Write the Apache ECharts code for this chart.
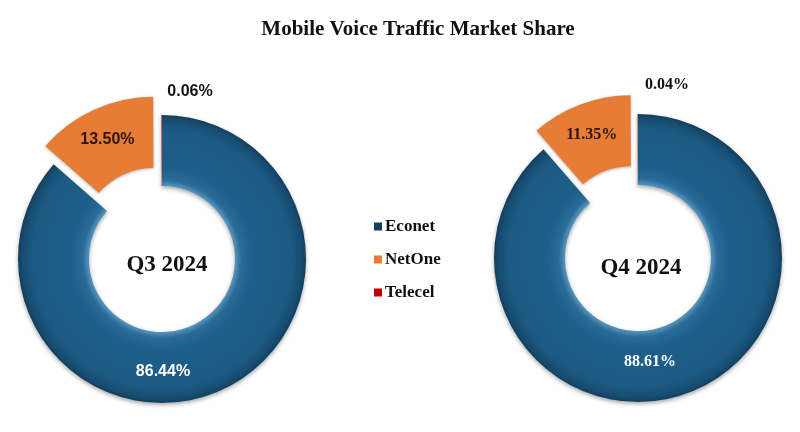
<!DOCTYPE html>
<html><head><meta charset="utf-8">
<script src="https://cdn.jsdelivr.net/npm/echarts@6/dist/echarts.min.js"></script>
<style>html,body{margin:0;padding:0;background:#fff}#c{width:800px;height:432px}</style>
</head><body><div id="c"></div>
<script>
const categories = ['Econet', 'NetOne', 'Telecel'];
const q3Values = [86.44, 13.50, 0.06];
const q4Values = [88.61, 11.35, 0.04];
const periods = ['Q3 2024', 'Q4 2024'];
const colors = ['#1E5D86', '#E67C35', '#C00000'];

const centers = [[162, 259], [638, 258]];
const rIn = 73, rOut = 144;
const fonts = ['"Liberation Sans", Arial, sans-serif', '"Liberation Serif", "Times New Roman", serif'];
const econetLabelOffsets = [[1, 113], [12, 104]];
const telecelLabelOffsets = [[28, -167], [29, -173]];

function econetFill(c) {
  return {
    type: 'radial', x: c[0], y: c[1], r: rOut, global: true,
    colorStops: [
      {offset: 0.50, color: '#5E9CC4'},
      {offset: 0.55, color: '#2A6C97'},
      {offset: 0.63, color: '#1F5F89'},
      {offset: 0.9, color: '#1C5A83'},
      {offset: 0.97, color: '#174C70'},
      {offset: 1, color: '#123E5C'}
    ]
  };
}

function makeSeries(values, idx) {
  const c = centers[idx];
  const font = fonts[idx];
  const eo = econetLabelOffsets[idx], to = telecelLabelOffsets[idx];
  return {
    type: 'pie',
    name: periods[idx],
    center: c,
    radius: [rIn, rOut],
    startAngle: 90,
    clockwise: true,
    selectedMode: 'multiple',
    selectedOffset: 20,
    avoidLabelOverlap: false,
    emphasis: {disabled: true},
    label: {
      show: true, position: 'inside',
      formatter: p => p.value.toFixed(2) + '%',
      fontFamily: font, fontWeight: 'bold', fontSize: 16
    },
    labelLine: {show: false},
    labelLayout: function (p) {
      if (p.dataIndex === 0) return {x: c[0] + eo[0], y: c[1] + eo[1], align: 'center', verticalAlign: 'middle'};
      if (p.dataIndex === 2) return {x: c[0] + to[0], y: c[1] + to[1], align: 'center', verticalAlign: 'middle'};
      return {};
    },
    data: values.map((v, i) => ({
      name: categories[i],
      value: v,
      selected: i === 1,
      itemStyle: i === 0 ? {color: econetFill(c), shadowBlur: 4, shadowColor: 'rgba(0,0,0,0.35)', shadowOffsetY: 2}
        : {color: colors[i], shadowBlur: 3, shadowColor: 'rgba(0,0,0,0.3)', shadowOffsetY: 1},
      label: i === 0 ? {color: '#FFFFFF'} : (i === 1 ? {color: '#2A1608'} : {color: '#111111', position: 'outside'})
    }))
  };
}

const chart = echarts.init(document.getElementById('c'), null, {renderer: 'canvas'});
chart.setOption({
  animation: false,
  backgroundColor: '#ffffff',
  color: colors,
  title: [
    {text: 'Mobile Voice Traffic Market Share', left: 413, top: 14, textAlign: 'center',
     textStyle: {fontFamily: '"Liberation Serif", "Times New Roman", serif', fontWeight: 'bold', fontSize: 21, color: '#111'}},
    {text: periods[0], left: 162, top: 249, textAlign: 'center',
     textStyle: {fontFamily: '"Liberation Serif", "Times New Roman", serif', fontWeight: 'bold', fontSize: 23, color: '#111'}},
    {text: periods[1], left: 636, top: 252, textAlign: 'center',
     textStyle: {fontFamily: '"Liberation Serif", "Times New Roman", serif', fontWeight: 'bold', fontSize: 23, color: '#111'}}
  ],
  legend: {
    orient: 'vertical', left: 369, top: 213,
    data: categories, icon: 'rect', itemWidth: 8, itemHeight: 8, itemGap: 16,
    selectedMode: false,
    textStyle: {fontFamily: '"Liberation Serif", "Times New Roman", serif', fontWeight: 'bold', fontSize: 17, color: '#111', padding: [0, 0, 0, -2]}
  },
  series: [makeSeries(q3Values, 0), makeSeries(q4Values, 1)]
});
</script></body></html>
